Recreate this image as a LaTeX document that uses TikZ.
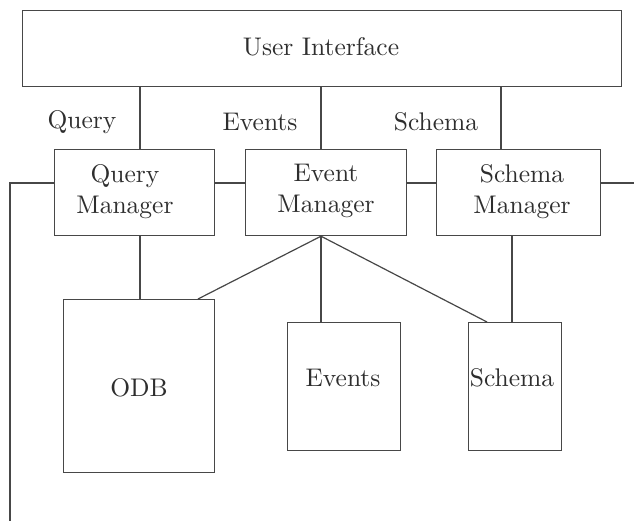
\documentclass[tikz,border=0pt]{standalone}
\usepackage{fontspec}
% the 10pt design of Latin Modern, scaled up, for its heavier strokes
\setmainfont{lmroman10-regular}[Extension=.otf]
\begin{document}
\begin{tikzpicture}[x=1pt,y=-1pt,
  ink/.style={draw=black!72, line width=1.2pt},
  box/.style={ink, rectangle, inner sep=0pt, anchor=north west},
  lbl/.style={text=black!82, inner sep=0pt, align=center,
              font=\fontsize{25.5}{31}\selectfont}]
\useasboundingbox (0,0) rectangle (634,521);

% boxes (top-left corner, size)
\node[box, minimum width=599pt, minimum height=76pt]  (ui)  at (22,10)  {};
\node[box, minimum width=160pt, minimum height=86pt]  (qm)  at (54,149) {};
\node[box, minimum width=161pt, minimum height=86pt]  (em)  at (245,149) {};
\node[box, minimum width=164pt, minimum height=86pt]  (sm)  at (436,149) {};
\node[box, minimum width=151pt, minimum height=173pt] (odb) at (63,299) {};
\node[box, minimum width=113pt, minimum height=128pt] (evb) at (287,322) {};
\node[box, minimum width=93pt,  minimum height=128pt] (scb) at (468,322) {};

% box texts
\node[lbl] (uiT)  at (321,47)  {User Interface};
\node[lbl] (qmT)  at (125,192) {Query\\Manager};
\node[lbl] (emT)  at (326,191) {Event\\Manager};
\node[lbl] (smT)  at (522,192) {Schema\\Manager};
\node[lbl] (odbT) at (139,388) {ODB};
\node[lbl] (evbT) at (343,378) {Events};
\node[lbl] (scbT) at (512,378) {Schema};

% interface labels
\node[lbl] (lq) at (82,122)  {Query};
\node[lbl] (le) at (260,122) {Events};
\node[lbl] (ls) at (436,122) {Schema};

% connector columns and the shared bus
\coordinate (xq)  at (140,0);
\coordinate (xe)  at (321,0);
\coordinate (xs)  at (501,0);
\coordinate (xsb) at (512,0);
\coordinate (bus) at (10,183);
\coordinate (busR) at (634,183);
\coordinate (busEnd) at (10,521);
\coordinate (odbTop) at (198,0);
\coordinate (scTop) at (487,0);

% user interface to managers
\draw[ink] (xq |- ui.south) -- (xq |- qm.north);
\draw[ink] (xe |- ui.south) -- (xe |- em.north);
\draw[ink] (xs |- ui.south) -- (xs |- sm.north);

% horizontal bus through the managers
\draw[ink] (busEnd) -- (bus) -- (bus -| qm.west);
\draw[ink] (qm.east |- bus) -- (em.west |- bus);
\draw[ink] (em.east |- bus) -- (sm.west |- bus);
\draw[ink] (sm.east |- bus) -- (busR);

% managers to stores
\draw[ink] (xq |- qm.south) -- (xq |- odb.north);
\draw[ink] (xe |- em.south) -- (odbTop |- odb.north);
\draw[ink] (xe |- em.south) -- (xe |- evb.north);
\draw[ink] (xe |- em.south) -- (scTop |- scb.north);
\draw[ink] (xsb |- sm.south) -- (xsb |- scb.north);
\end{tikzpicture}
\end{document}
